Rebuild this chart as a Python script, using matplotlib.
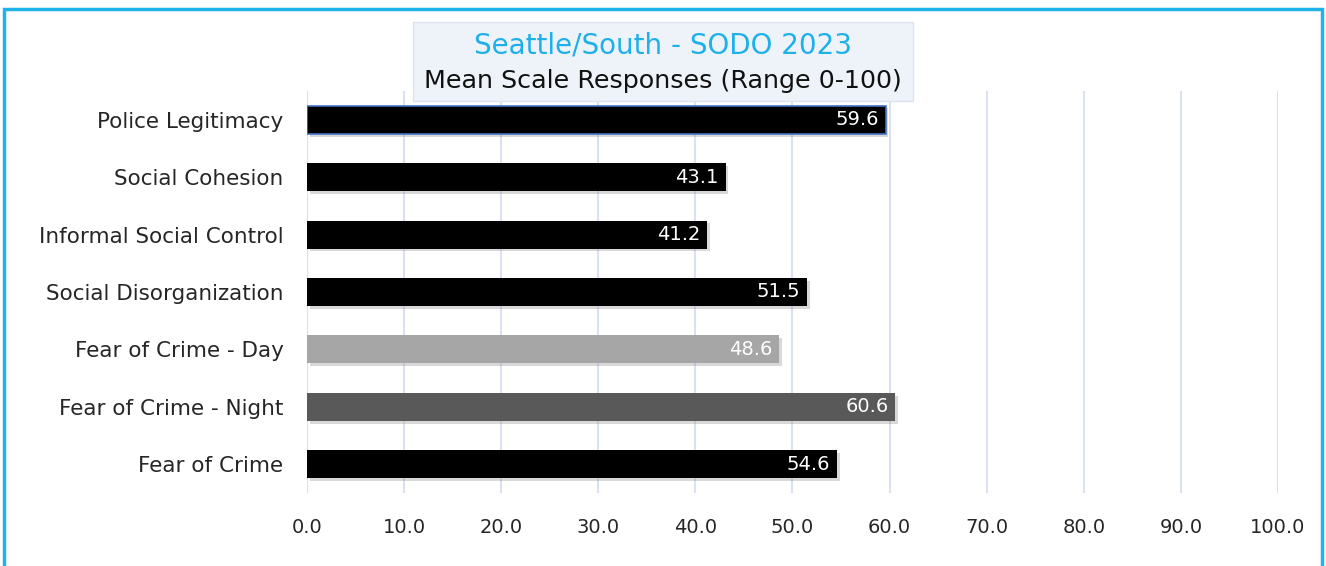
import matplotlib
matplotlib.use('Agg')
from matplotlib import pyplot as plt
from matplotlib import patheffects as pe
from matplotlib.patches import Rectangle

categories = ['Police Legitimacy', 'Social Cohesion', 'Informal Social Control',
              'Social Disorganization', 'Fear of Crime - Day', 'Fear of Crime - Night',
              'Fear of Crime']
values = [59.6, 43.1, 41.2, 51.5, 48.6, 60.6, 54.6]
bar_colors = ['#000000', '#000000', '#000000', '#000000', '#A6A6A6', '#595959', '#000000']
xticks = [0, 10, 20, 30, 40, 50, 60, 70, 80, 90, 100]

plt.rcParams['font.family'] = ['DejaVu Sans']

fig = plt.figure(figsize=(13.26, 5.66), dpi=100)
ax = fig.add_axes([307 / 1326, 1 - 493 / 566, (1278 - 307) / 1326, (493 - 91) / 566])

ypos = list(range(len(categories)))
shadow = [pe.SimplePatchShadow(offset=(2, -2), shadow_rgbFace='#808080', alpha=0.3), pe.Normal()]
bars = ax.barh(ypos, values, height=0.49, color=bar_colors, zorder=3)
for b in bars:
    b.set_path_effects(shadow)
bars[0].set_edgecolor('#4472C4')
bars[0].set_linewidth(1.2)

for b, v in zip(bars, values):
    ax.text(v - 0.7, b.get_y() + b.get_height() / 2, f'{v:.1f}', color='white',
            ha='right', va='center', fontsize=14, zorder=4)

ax.set_xlim(0, 100)
ax.set_ylim(len(categories) - 0.5, -0.5)
ax.set_xticks(xticks)
ax.set_xticklabels([f'{t:.1f}' for t in xticks], fontsize=14, color='#262626')
ax.set_yticks(ypos)
ax.set_yticklabels(categories, fontsize=15.5, color='#262626')
ax.tick_params(axis='both', length=0)
ax.tick_params(axis='x', pad=18)
ax.tick_params(axis='y', pad=17)
ax.grid(axis='x', color='#D9E1F2', linewidth=1.5, zorder=0)
for s in ax.spines.values():
    s.set_visible(False)
ax.axvline(0, color='#D9E1F2', linewidth=1.5, zorder=1)

# outer chart border
fig.patches.append(Rectangle((4 / 1326, -0.05), (1322 - 4) / 1326, 1.05 - 9 / 566,
                             transform=fig.transFigure, fill=False,
                             edgecolor='#1EB4E8', linewidth=2.5))

# title box
fig.patches.append(Rectangle((413 / 1326, 1 - 101 / 566), 500 / 1326, 79 / 566,
                             transform=fig.transFigure, facecolor='#EEF3FA',
                             edgecolor='#DCE3EE', linewidth=1, zorder=5))
fig.text(663 / 1326, 1 - 45 / 566, 'Seattle/South - SODO 2023', color='#1EB0E8',
         fontsize=20, ha='center', va='center', zorder=6)
fig.text(663 / 1326, 1 - 81 / 566, 'Mean Scale Responses (Range 0-100)', color='#111111',
         fontsize=18.3, ha='center', va='center', zorder=6)

fig.savefig('out.png', dpi=100)
